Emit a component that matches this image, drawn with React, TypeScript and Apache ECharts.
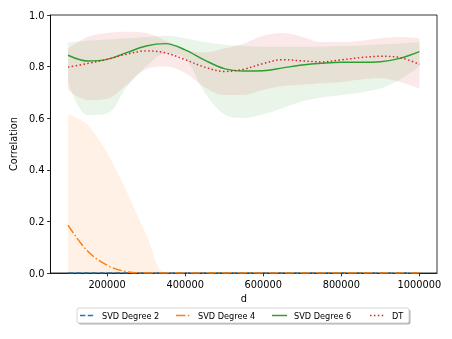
import React, { useEffect, useRef } from "react";
import * as echarts from "echarts";

const dValues = [100000, 150000, 200000, 250000, 300000, 350000, 400000, 450000, 500000, 550000, 600000, 650000, 700000, 750000, 800000, 850000, 900000, 950000, 1000000];

const svd2 = [0, 0, 0, 0, 0, 0, 0, 0, 0, 0, 0, 0, 0, 0, 0, 0, 0, 0, 0];
const svd4 = [0.185, 0.085, 0.03, 0.005, 0, 0, 0, 0, 0, 0, 0, 0, 0, 0, 0, 0, 0, 0, 0];
const svd4Hi = [0.615, 0.575, 0.465, 0.315, 0.15, 0, 0, 0, 0, 0, 0, 0, 0, 0, 0, 0, 0, 0, 0];
const svd6 = [0.844, 0.822, 0.828, 0.854, 0.88, 0.889, 0.865, 0.825, 0.792, 0.783, 0.784, 0.795, 0.806, 0.813, 0.817, 0.817, 0.819, 0.832, 0.858];
const svd6Hi = [0.893, 0.9, 0.905, 0.91, 0.915, 0.92, 0.91, 0.895, 0.885, 0.88, 0.877, 0.877, 0.877, 0.878, 0.88, 0.882, 0.886, 0.89, 0.895];
const svd6Lo = [0.74, 0.612, 0.618, 0.72, 0.8, 0.85, 0.83, 0.7, 0.615, 0.6, 0.615, 0.64, 0.665, 0.68, 0.69, 0.7, 0.715, 0.75, 0.8];
const dt = [0.798, 0.812, 0.828, 0.848, 0.861, 0.853, 0.827, 0.798, 0.781, 0.79, 0.812, 0.827, 0.822, 0.818, 0.826, 0.835, 0.84, 0.835, 0.809];
const dtHi = [0.87, 0.915, 0.93, 0.935, 0.93, 0.9, 0.865, 0.855, 0.87, 0.89, 0.92, 0.93, 0.915, 0.895, 0.895, 0.9, 0.91, 0.915, 0.91];
const dtLo = [0.71, 0.67, 0.675, 0.73, 0.79, 0.8, 0.775, 0.72, 0.69, 0.69, 0.71, 0.725, 0.73, 0.735, 0.74, 0.75, 0.755, 0.74, 0.715];

const xTicks = [200000, 400000, 600000, 800000, 1000000];
const seriesNames = ["SVD Degree 2", "SVD Degree 4", "SVD Degree 6", "DT"];

const BLUE = "#1f77b4";
const ORANGE = "#ff7f0e";
const GREEN = "#2ca02c";
const RED = "#d62728";
const FONT = "DejaVu Sans";

const DASH2 = [5.4, 2.4];
const DASH4 = [9.4, 2.4, 1.5, 2.4];
const DASH_DT = [1.5, 2.4];

const pairs = (ys: number[]) => ys.map((v, i) => [dValues[i], v]);
// y first, x second (encoded) so that stacking happens on the y dimension
const yx = (ys: number[]) => ys.map((v, i) => [v, dValues[i]]);
const diffYX = (a: number[], b: number[]) => a.map((v, i) => [+(v - b[i]).toFixed(4), dValues[i]]);

export default function App() {
  const ref = useRef<HTMLDivElement>(null);
  useEffect(() => {
    if (!ref.current) return;
    const chart = echarts.init(ref.current, null, { renderer: "svg" });
    const smooth = 0.35;
    const hidden = { lineStyle: { width: 0, opacity: 0 }, showSymbol: false, symbol: "none", silent: true, encode: { x: 1, y: 0 } };

    const legendColors = [BLUE, ORANGE, GREEN, RED];
    const legendDash: any[] = [DASH2, DASH4, null, DASH_DT];
    const handleX = [80, 176, 272, 370];
    const textX = [102, 198, 294, 392];
    const ly = 315.5;
    const legendGraphics: any[] = [
      { type: "rect", shape: { x: 78.5, y: 309.5, width: 332, height: 15, r: 2 }, style: { fill: "rgba(0,0,0,0.3)" }, z: 10 },
      { type: "rect", shape: { x: 77, y: 308, width: 332, height: 15, r: 2 }, style: { fill: "#fff", stroke: "#cccccc", lineWidth: 0.8 }, z: 11 },
    ];
    seriesNames.forEach((n, i) => {
      legendGraphics.push({
        type: "line",
        shape: { x1: handleX[i], y1: ly, x2: handleX[i] + 15, y2: ly },
        style: { stroke: legendColors[i], lineWidth: 1.47, lineDash: legendDash[i] || undefined },
        z: 12,
      });
      legendGraphics.push({
        type: "text",
        x: textX[i],
        y: ly,
        style: { text: n, fontFamily: FONT, fontSize: 8.2, fill: "#000", verticalAlign: "middle", align: "left" },
        z: 12,
      });
    });

    chart.setOption({
      animation: false,
      grid: { left: 46, right: 15, top: 15, bottom: 66, show: true, borderColor: "#000", borderWidth: 0.8, backgroundColor: "transparent" },
      graphic: legendGraphics,
      xAxis: {
        type: "value",
        min: 55000,
        max: 1045000,
        name: "d",
        nameLocation: "middle",
        nameGap: 20,
        nameTextStyle: { fontFamily: FONT, fontSize: 9.8, color: "#000" },
        splitLine: { show: false },
        axisLine: { show: true, lineStyle: { color: "#000", width: 0.8 } },
        axisTick: { show: true, length: 3.4, lineStyle: { color: "#000", width: 0.8 }, customValues: xTicks },
        axisLabel: { fontFamily: FONT, fontSize: 9.8, color: "#000", margin: 6, customValues: xTicks, formatter: (v: number) => String(v) },
      },
      yAxis: {
        type: "value",
        min: 0,
        max: 1,
        interval: 0.2,
        name: "Correlation",
        nameLocation: "middle",
        nameGap: 27,
        nameTextStyle: { fontFamily: FONT, fontSize: 9.8, color: "#000" },
        splitLine: { show: false },
        axisLine: { show: true, lineStyle: { color: "#000", width: 0.8 } },
        axisTick: { show: true, length: 3.4, lineStyle: { color: "#000", width: 0.8 } },
        axisLabel: { fontFamily: FONT, fontSize: 9.8, color: "#000", margin: 6, formatter: (v: number) => v.toFixed(1) },
      },
      series: [
        { name: "o_hi", type: "line", data: pairs(svd4Hi), smooth, lineStyle: { width: 0, opacity: 0 }, showSymbol: false, symbol: "none", silent: true, areaStyle: { color: ORANGE, opacity: 0.11 } },
        { name: "g_lo", type: "line", stack: "g", data: yx(svd6Lo), smooth, ...hidden },
        { name: "g_band", type: "line", stack: "g", data: diffYX(svd6Hi, svd6Lo), smooth, ...hidden, areaStyle: { color: GREEN, opacity: 0.1 } },
        { name: "r_lo", type: "line", stack: "r", data: yx(dtLo), smooth, ...hidden },
        { name: "r_band", type: "line", stack: "r", data: diffYX(dtHi, dtLo), smooth, ...hidden, areaStyle: { color: RED, opacity: 0.1 } },
        { name: "SVD Degree 2", type: "line", data: pairs(svd2), symbol: "none", showSymbol: false, z: 3, lineStyle: { color: BLUE, width: 1.47, type: DASH2 } },
        { name: "SVD Degree 4", type: "line", data: pairs(svd4), smooth, symbol: "none", showSymbol: false, z: 3, lineStyle: { color: ORANGE, width: 1.47, type: DASH4 } },
        { name: "SVD Degree 6", type: "line", data: pairs(svd6), smooth, symbol: "none", showSymbol: false, z: 3, lineStyle: { color: GREEN, width: 1.47 } },
        { name: "DT", type: "line", data: pairs(dt), smooth, symbol: "none", showSymbol: false, z: 3, lineStyle: { color: RED, width: 1.47, type: DASH_DT } },
      ],
    });
    return () => chart.dispose();
  }, []);
  return <div ref={ref} style={{ position: "fixed", left: 0, top: 0, width: 452, height: 339 }} />;
}
